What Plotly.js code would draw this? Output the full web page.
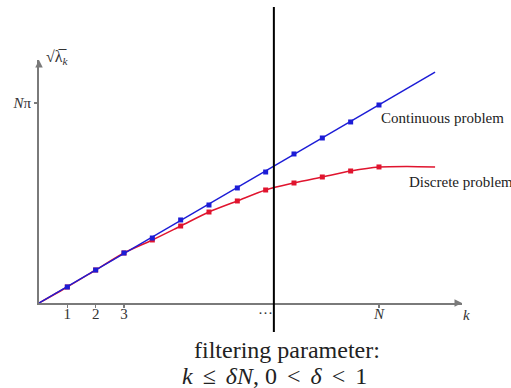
<!DOCTYPE html>
<html>
<head>
<meta charset="utf-8">
<script src="https://cdn.plot.ly/plotly-3.0.1.min.js"></script>
<style>
  html, body { margin: 0; padding: 0; background: #fff; }
  #chart { width: 511px; height: 388px; }
</style>
</head>
<body>
<div id="chart"></div>
<script>
// Eigenvalue index k and sqrt(lambda_k) for the two problems
const kValues = [1, 2, 3, 4, 5, 6, 7, 8, 9, 10, 11, 12];
const continuousValues = [3.02, 6.22, 9.43, 12.25, 15.65, 18.47, 21.68, 24.69, 28.09, 31.10, 34.12, 37.32];
const discreteValues = [3.02, 6.22, 9.43, 11.88, 14.51, 17.15, 19.23, 21.30, 22.62, 23.75, 24.88, 25.64];

// Curves drawn through the points (beyond the last sample as well)
const continuousLineK = [0, 13.98];
const continuousLineY = [0, 43.5];
const discreteLineK = [0, 1, 2, 3, 4, 5, 6, 7, 8, 9, 10, 11, 12, 13, 13.98];
const discreteLineY = [0, 3.02, 6.22, 9.43, 11.88, 14.51, 17.15, 19.23, 21.30, 22.62, 23.75, 24.88, 25.64, 25.75, 25.64];

// Axis ticks
const xTickVals = [1, 2, 3, 12];
const xTickText = ['1', '2', '3', '<i>N</i>'];
const yTickVals = [37.70];
const yTickText = ['<i>N</i>π'];

// Filtering cut-off k = δN
const cutoffK = 8.29;
const dotsK = 7.98;

const xMax = 14.93, yMax = 45.8;
const axisGrey = '#7a7a7a';
const serif = 'Liberation Serif';
const blue = '#1c1cd6';
const red = '#e0142e';
const rel = '\u2006'; // extra spacing around relation symbols

const traces = [
  { x: discreteLineK, y: discreteLineY, mode: 'lines', line: { color: red, width: 1.5, shape: 'spline', smoothing: 0.8 }, hoverinfo: 'skip' },
  { x: kValues, y: discreteValues, mode: 'markers', marker: { color: red, size: 5, symbol: 'square' } },
  { x: continuousLineK, y: continuousLineY, mode: 'lines', line: { color: blue, width: 1.5 }, hoverinfo: 'skip' },
  { x: kValues, y: continuousValues, mode: 'markers', marker: { color: blue, size: 5, symbol: 'square' } }
];

const layout = {
  width: 511, height: 388,
  margin: { l: 39, r: 49, t: 60, b: 85 },
  paper_bgcolor: '#fff', plot_bgcolor: '#fff',
  showlegend: false,
  font: { family: serif, color: '#222' },
  xaxis: {
    range: [0, xMax], showgrid: false, zeroline: false,
    showline: true, linecolor: axisGrey, linewidth: 2,
    tickmode: 'array', tickvals: xTickVals, ticktext: xTickText,
    ticks: 'outside', ticklen: 3, tickwidth: 1.5, tickcolor: axisGrey,
    ticklabelstandoff: -7,
    tickfont: { family: serif, size: 15, color: '#333' }
  },
  yaxis: {
    range: [0, yMax], showgrid: false, zeroline: false,
    showline: true, linecolor: axisGrey, linewidth: 2,
    tickmode: 'array', tickvals: yTickVals, ticktext: yTickText,
    ticks: 'outside', ticklen: 3, tickwidth: 1.5, tickcolor: axisGrey,
    tickfont: { family: serif, size: 15, color: '#333' }
  },
  shapes: [
    { type: 'line', xref: 'x', yref: 'paper', x0: cutoffK, x1: cutoffK, y0: -0.119, y1: 1.218,
      line: { color: '#000', width: 2 } }
  ],
  annotations: [
    // axis arrowheads
    { xref: 'x', yref: 'y', x: xMax, y: 0, ax: -8, ay: 0, showarrow: true, arrowhead: 2, arrowsize: 1, arrowwidth: 1.5, arrowcolor: axisGrey, text: '' },
    { xref: 'x', yref: 'y', x: 0, y: yMax, ax: 0, ay: 8, showarrow: true, arrowhead: 2, arrowsize: 1, arrowwidth: 1.5, arrowcolor: axisGrey, text: '' },
    // axis names
    { xref: 'paper', yref: 'paper', x: 0.998, y: -0.049, xanchor: 'left', yanchor: 'middle', showarrow: false,
      text: '<i>k</i>', font: { family: serif, size: 15, color: '#333' } },
    { xref: 'paper', yref: 'paper', x: 0.012, y: 1.01, xanchor: 'left', yanchor: 'middle', showarrow: false,
      text: '√λ\u0305<sub><i>k</i></sub>', font: { family: serif, size: 16, color: '#333' } },
    { xref: 'x', yref: 'paper', x: dotsK, y: -0.04, xanchor: 'center', yanchor: 'middle', showarrow: false,
      text: '···', font: { family: serif, size: 15, color: '#333' } },
    // curve names
    { xref: 'x', yref: 'y', x: 12.0, y: 34.9, xanchor: 'left', yanchor: 'middle', showarrow: false,
      text: 'Continuous problem', font: { family: serif, size: 15, color: '#222' } },
    { xref: 'x', yref: 'y', x: 13.0, y: 22.8, xanchor: 'left', yanchor: 'middle', showarrow: false,
      text: 'Discrete problem', font: { family: serif, size: 15, color: '#222' } },
    // filtering caption
    { xref: 'paper', yref: 'paper', x: 0.586, y: -0.193, xanchor: 'center', yanchor: 'middle', showarrow: false,
      text: 'filtering parameter:', font: { family: serif, size: 24, color: '#222' } },
    { xref: 'paper', yref: 'paper', x: 0.556, y: -0.300, xanchor: 'center', yanchor: 'middle', showarrow: false,
      text: `<i>k</i> ${rel}≤${rel} <i>δN</i>, 0 ${rel}&lt;${rel} <i>δ</i> ${rel}&lt;${rel} 1`, font: { family: serif, size: 24, color: '#222' } }
  ]
};

Plotly.newPlot('chart', traces, layout, { staticPlot: true, displayModeBar: false });
</script>
</body>
</html>
